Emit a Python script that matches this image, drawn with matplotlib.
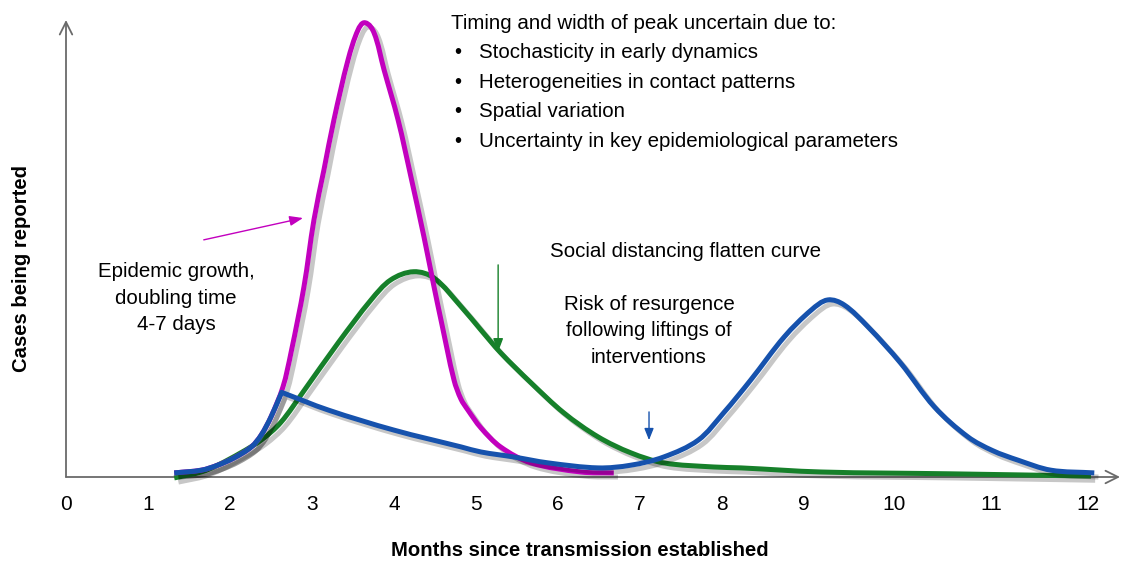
import matplotlib
matplotlib.use("Agg")
import numpy as np
import matplotlib.pyplot as plt
import matplotlib.patheffects as pe
from matplotlib.path import Path
from matplotlib.patches import PathPatch

# ejes: posicion horizontal en "meses" segun la escala dibujada (las etiquetas 10-12 estan mas separadas)
tick_pos = [0, 1, 2, 3, 4, 5, 6, 7, 8, 9, 10.1, 11.28, 12.46]
tick_labels = [str(i) for i in range(13)]

# curva sin intervenciones (magenta)
x_sin = [1.32, 1.65, 1.85, 2.05, 2.26, 2.38, 2.50, 2.646, 2.744, 2.902, 3.024, 3.146, 3.268,
         3.439, 3.561, 3.646, 3.756, 3.878, 4.049, 4.207, 4.366, 4.488, 4.573, 4.732, 4.817,
         4.902, 5.06, 5.30, 5.67, 6.28, 6.68]
y_sin = [0.9, 1.5, 2.6, 4.2, 6.6, 9.2, 13.2, 19.8, 27.3, 41.8, 56.5, 67.5, 78.5,
         91.6, 98.2, 99.8, 97.6, 89.5, 78.5, 65.9, 52.7, 41.8, 34.5, 21.3, 17.1,
         14.7, 10.8, 6.6, 3.1, 1.1, 0.9]

# distanciamiento social (verde)
x_dist = [1.32, 1.65, 1.85, 2.13, 2.38, 2.62, 2.90, 3.32, 3.72, 3.96, 4.24, 4.49, 4.82,
          5.06, 5.30, 5.67, 6.07, 6.49, 6.89, 7.29, 7.90, 8.23, 9.21, 10.79, 12.50]
y_dist = [-0.2, 1.1, 2.6, 5.3, 8.1, 12.0, 18.9, 29.5, 38.9, 43.3, 45.1, 43.7, 37.4,
          32.3, 27.3, 20.7, 14.1, 8.8, 5.3, 3.1, 2.2, 2.0, 1.1, 0.7, 0.2]

# levantamiento de intervenciones (azul); el quiebre esta en el indice 7
x_rebrote = [1.32, 1.65, 1.85, 2.05, 2.26, 2.38, 2.50, 2.63, 3.20, 4.00, 4.82, 5.06, 5.46,
             5.88, 6.49, 6.89, 7.29, 7.71, 8.02, 8.35, 8.76, 9.09, 9.29, 9.49, 9.78, 10.18,
             10.59, 11.00, 11.30, 11.61, 12.01, 12.54]
y_rebrote = [0.9, 1.5, 2.6, 4.2, 6.6, 9.2, 13.2, 18.6, 14.7, 10.3, 6.6, 5.5, 4.4,
             3.1, 2.0, 2.6, 4.4, 8.1, 14.1, 21.3, 30.8, 36.7, 38.9, 37.8, 33.0, 25.0,
             15.4, 8.8, 5.8, 3.7, 1.5, 0.9]
quiebre_rebrote = 7

rosa = '#C200BE'
verde = '#16802A'
azul = '#1652AD'
gris = '#6a6a6a'

# escala aproximada px por unidad, solo para suavizar las curvas
ESC_X, ESC_Y = 82.0, 4.55


def curva_suave(xs, ys, quiebres=()):
    # Bezier que pasa por todos los puntos (tangentes tipo Catmull-Rom)
    p = np.column_stack([np.array(xs) * ESC_X, np.array(ys) * ESC_Y])
    n = len(p)
    tang = np.zeros_like(p)
    for i in range(n):
        a = p[max(i - 1, 0)]
        b = p[min(i + 1, n - 1)]
        d = b - a
        tang[i] = d / np.hypot(*d)
    verts = [p[0]]
    codes = [Path.MOVETO]
    for i in range(n - 1):
        seg = np.hypot(*(p[i + 1] - p[i]))
        recta = (p[i + 1] - p[i]) / seg
        t0 = recta if i in quiebres else tang[i]
        t1 = recta if (i + 1) in quiebres else tang[i + 1]
        verts += [p[i] + t0 * seg / 3, p[i + 1] - t1 * seg / 3, p[i + 1]]
        codes += [Path.CURVE4] * 3
    verts = np.array(verts)
    verts[:, 0] /= ESC_X
    verts[:, 1] /= ESC_Y
    return Path(verts, codes)


plt.rcParams['font.family'] = ['Liberation Sans', 'DejaVu Sans']

fig = plt.figure(figsize=(11.22, 5.62), dpi=100)
ax = fig.add_axes([66 / 1122, 85 / 562, (1120 - 66) / 1122, 457 / 562])
ax.set_xlim(0, (1120 - 66) / 82)
ax.set_ylim(0, 100.4)
for s in ax.spines.values():
    s.set_visible(False)
ax.set_yticks([])
ax.set_xticks(tick_pos, tick_labels, fontsize=15)
ax.tick_params(axis='x', length=0, pad=13, colors='black')

# ejes con flecha abierta
ax.annotate('', xy=(0.0, 1.0), xytext=(0.0, 0.0), xycoords='axes fraction',
            arrowprops=dict(arrowstyle='->,head_length=0.9,head_width=0.45', color=gris, lw=1.3,
                            shrinkA=0, shrinkB=0))
ax.annotate('', xy=(1.0, 0.0), xytext=(0.0, 0.0), xycoords='axes fraction',
            arrowprops=dict(arrowstyle='->,head_length=0.9,head_width=0.45', color=gris, lw=1.3,
                            shrinkA=0, shrinkB=0))

sombra = [pe.SimpleLineShadow(offset=(3, -3), shadow_color='black', alpha=0.22),
          pe.Normal()]
for xs, ys, col, q, z in [(x_dist, y_dist, verde, (), 3),
                          (x_sin, y_sin, rosa, (), 4),
                          (x_rebrote, y_rebrote, azul, (quiebre_rebrote,), 5)]:
    parche = PathPatch(curva_suave(xs, ys, q), facecolor='none', edgecolor=col, lw=3.6,
                       capstyle='butt', joinstyle='round', clip_on=False, zorder=z,
                       path_effects=sombra)
    ax.add_patch(parche)

# flechas de anotacion
ax.annotate('', xy=(2.89, 56.9), xytext=(1.68, 52.1),
            arrowprops=dict(arrowstyle='-|>,head_length=0.8,head_width=0.3', color=rosa, lw=1.0,
                            shrinkA=0, shrinkB=0))
ax.annotate('', xy=(5.27, 27.5), xytext=(5.27, 46.6),
            arrowprops=dict(arrowstyle='-|>,head_length=0.8,head_width=0.3', color=verde, lw=1.0,
                            shrinkA=0, shrinkB=0))
ax.annotate('', xy=(7.11, 8.1), xytext=(7.11, 14.3),
            arrowprops=dict(arrowstyle='-|>,head_length=0.7,head_width=0.28', color=azul, lw=1.0,
                            shrinkA=0, shrinkB=0))

# textos
fs = 14.8
ax.text(1.34, 39.3, 'Epidemic growth,\ndoubling time\n4-7 days', ha='center', va='center',
        fontsize=fs, linespacing=1.5)
ax.text(4.70, 99.6, 'Timing and width of peak uncertain due to:', ha='left', va='center', fontsize=fs)
puntos = ['Stochasticity in early dynamics', 'Heterogeneities in contact patterns',
          'Spatial variation', 'Uncertainty in key epidemiological parameters']
for i, p in enumerate(puntos):
    yy = 93.2 - i * 6.5
    ax.text(4.73, yy, '\u2022', ha='left', va='center', fontsize=fs)
    ax.text(5.04, yy, p, ha='left', va='center', fontsize=fs)
ax.text(7.56, 49.5, 'Social distancing flatten curve', ha='center', va='center', fontsize=fs)
ax.text(7.11, 32.1, 'Risk of resurgence\nfollowing liftings of\ninterventions', ha='center',
        va='center', fontsize=fs, linespacing=1.5)

fig.text(22 / 1122, 1 - 268 / 562, 'Cases being reported', rotation=90, ha='center', va='center',
         fontsize=14.6, fontweight='bold')
fig.text(580 / 1122, 1 - 550 / 562, 'Months since transmission established', ha='center',
         va='center', fontsize=14.6, fontweight='bold')

fig.savefig('out.png', dpi=100)
